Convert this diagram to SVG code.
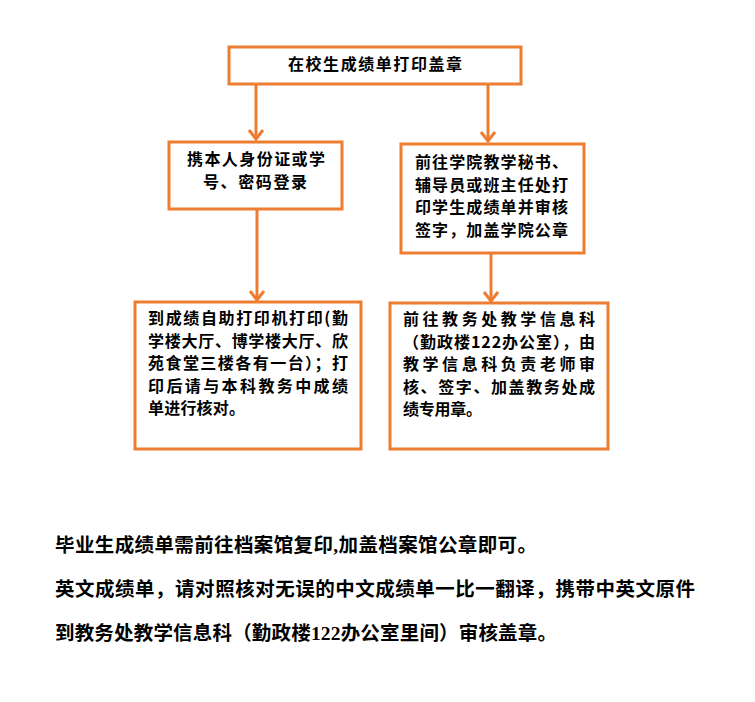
<svg xmlns="http://www.w3.org/2000/svg" width="755" height="702" viewBox="0 0 755 702">
<style>
.box{fill:#fff;stroke:#ED7D31;stroke-width:3}
.t{font-family:"Noto Sans CJK SC","Liberation Sans",sans-serif;font-size:16px;font-weight:bold;fill:#000}
.n{font-family:"Liberation Serif","Noto Sans CJK SC",serif;font-size:19.5px;font-weight:bold;fill:#000}
.c{stroke:#ED7D31;stroke-width:3;fill:none}
</style>
<defs>
<marker id="ah" markerUnits="userSpaceOnUse" markerWidth="20" markerHeight="20" refX="12" refY="10" orient="auto" viewBox="0 0 20 20">
<polyline points="3,3 12,10 3,17" fill="none" stroke="#ED7D31" stroke-width="3"/>
</marker>
</defs>
<rect width="755" height="702" fill="#fff"/>
<g id="connectors">
<line class="c" x1="256" y1="84" x2="256" y2="139" marker-end="url(#ah)"/>
<line class="c" x1="488" y1="84" x2="488" y2="141" marker-end="url(#ah)"/>
<line class="c" x1="257" y1="209" x2="257" y2="300" marker-end="url(#ah)"/>
<line class="c" x1="491" y1="253" x2="491" y2="301" marker-end="url(#ah)"/>
</g>
<g id="n1">
<rect class="box" x="229" y="47" width="292" height="37"/>
<text class="t" x="288" y="70" textLength="174" lengthAdjust="spacing">在校生成绩单打印盖章</text>
</g>
<g id="n2">
<rect class="box" x="169" y="142" width="173" height="67"/>
<text class="t" x="187" y="165" textLength="138" lengthAdjust="spacing">携本人身份证或学</text>
<text class="t" x="203" y="188" textLength="104" lengthAdjust="spacing">号、密码登录</text>
</g>
<g id="n3">
<rect class="box" x="401" y="144" width="183" height="109"/>
<text class="t" x="415" y="168" textLength="153" lengthAdjust="spacing">前往学院教学秘书、</text>
<text class="t" x="415" y="190.5" textLength="153" lengthAdjust="spacing">辅导员或班主任处打</text>
<text class="t" x="415" y="213" textLength="153" lengthAdjust="spacing">印学生成绩单并审核</text>
<text class="t" x="415" y="235.5" textLength="153" lengthAdjust="spacing">签字，加盖学院公章</text>
</g>
<g id="n4">
<rect class="box" x="135" y="302" width="226" height="147"/>
<text class="t" x="148" y="324" textLength="200" lengthAdjust="spacing">到成绩自助打印机打印(勤</text>
<text class="t" x="148" y="346.5" textLength="200" lengthAdjust="spacing">学楼大厅、博学楼大厅、欣</text>
<text class="t" x="148" y="369" textLength="200" lengthAdjust="spacing">苑食堂三楼各有一台）；打</text>
<text class="t" x="148" y="391.5" textLength="200" lengthAdjust="spacing">印后请与本科教务中成绩</text>
<text class="t" x="148" y="414" textLength="97" lengthAdjust="spacing">单进行核对。</text>
</g>
<g id="n5">
<rect class="box" x="390" y="303" width="218" height="146"/>
<text class="t" x="403" y="325" textLength="192" lengthAdjust="spacing">前往教务处教学信息科</text>
<text class="t" x="403" y="347.5" textLength="192" lengthAdjust="spacing">（勤政楼122办公室），由</text>
<text class="t" x="403" y="370" textLength="192" lengthAdjust="spacing">教学信息科负责老师审</text>
<text class="t" x="403" y="392.5" textLength="192" lengthAdjust="spacing">核、签字、加盖教务处成</text>
<text class="t" x="403" y="415" textLength="79" lengthAdjust="spacing">绩专用章。</text>
</g>
<g id="notes">
<text class="n" x="55" y="552" textLength="482" lengthAdjust="spacing">毕业生成绩单需前往档案馆复印,加盖档案馆公章即可。</text>
<text class="n" x="55" y="596" textLength="640" lengthAdjust="spacing">英文成绩单，请对照核对无误的中文成绩单一比一翻译，携带中英文原件</text>
<text class="n" x="55" y="639.5" textLength="502" lengthAdjust="spacing">到教务处教学信息科（勤政楼122办公室里间）审核盖章。</text>
</g>
</svg>
